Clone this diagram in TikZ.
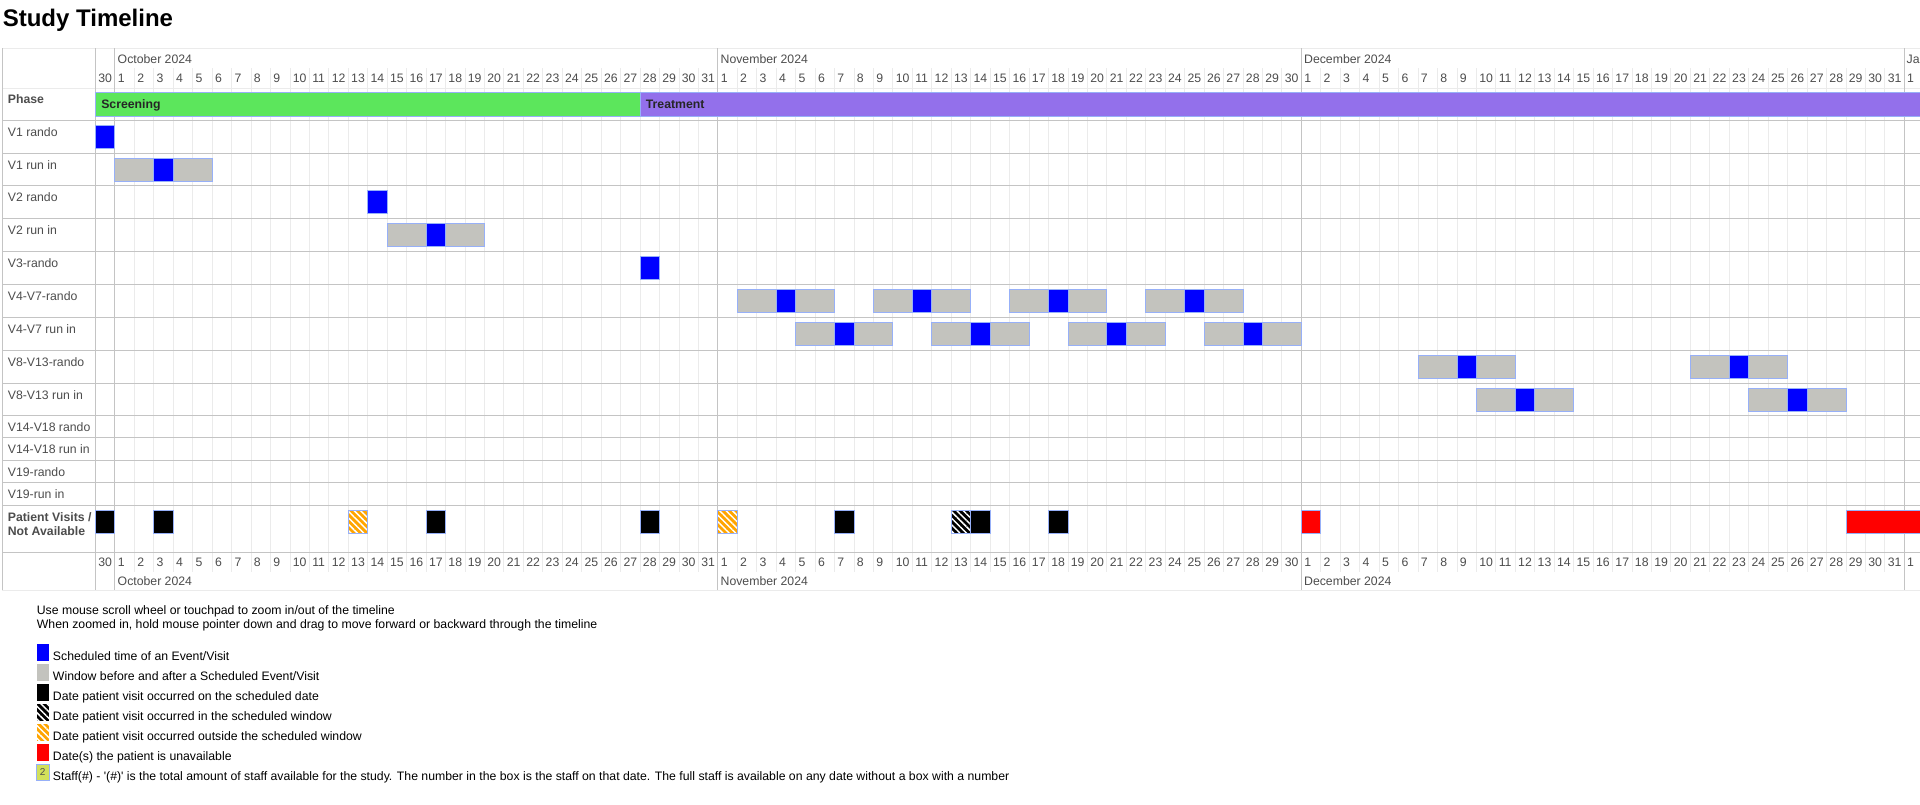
\documentclass[tikz,border=0pt]{standalone}
\usepackage{fontspec}
\setmainfont{Liberation Sans}
\usetikzlibrary{patterns.meta}
\definecolor{gridminor}{HTML}{EBEBEB}
\definecolor{gridmajor}{HTML}{C4C4C4}
\definecolor{itemborder}{HTML}{97B0F8}
\definecolor{schedblue}{HTML}{0000FF}
\definecolor{wingray}{HTML}{C3C3BE}
\definecolor{screengreen}{HTML}{5CE65C}
\definecolor{treatpurple}{HTML}{9370EB}
\definecolor{visitorange}{HTML}{FFA500}
\definecolor{unavred}{HTML}{FF0000}
\definecolor{staffgreen}{HTML}{D2E05A}
\definecolor{txtgray}{HTML}{4D4D4D}
\tikzset{
  x=0.75pt, y=-0.75pt,
  item/.style={draw=itemborder, line width=0.75pt},
  minorline/.style={draw=gridminor, line width=0.75pt},
  majorline/.style={draw=gridmajor, line width=0.75pt},
  daynum/.style={anchor=base west, inner sep=0pt, font=\fontsize{9.2}{11}\selectfont, text=txtgray},
  rowlbl/.style={anchor=base west, inner sep=0pt, font=\fontsize{9.2}{11}\selectfont, text=txtgray},
  boldlbl/.style={anchor=base west, inner sep=0pt, font=\fontsize{9.2}{11}\selectfont\bfseries, text=txtgray},
  phaselbl/.style={anchor=base west, inner sep=0pt, font=\fontsize{9.2}{11}\selectfont\bfseries, text=black!85},
  legtxt/.style={anchor=base west, inner sep=0pt, font=\fontsize{9.2}{11}\selectfont, text=black},
  hatch/.style={pattern={Lines[angle=-45,distance=3.4pt,line width=1.1pt]}, pattern color=white},
}
% day index d: Sep 30 = 0, Oct k = k, Nov k = 31+k, Dec k = 61+k, Jan 1 = 93
\newcommand{\winbox}[3]{\filldraw[item, fill=wingray] ({95.5+(#1)*19.45},#3+5) rectangle ({95.5+(#2)*19.45},#3+28);}
\newcommand{\schedbox}[2]{\filldraw[item, fill=schedblue] ({95.5+(#1)*19.45},#2+5) rectangle ({95.5+(#1+1)*19.45},#2+28);}
\newcommand{\visitbox}[3]{\filldraw[item, fill=#3] ({95.5+(#1)*19.45},#2+5) rectangle ({95.5+(#1+1)*19.45},#2+28);}
\newcommand{\hatchbox}[3]{\fill[#3] ({95.5+(#1)*19.45},#2+5) rectangle ({95.5+(#1+1)*19.45},#2+28);
  \fill[hatch] ({95.5+(#1)*19.45},#2+5) rectangle ({95.5+(#1+1)*19.45},#2+28);
  \draw[item] ({95.5+(#1)*19.45},#2+5) rectangle ({95.5+(#1+1)*19.45},#2+28);}
\newcommand{\runin}[2]{\winbox{#1-2}{#1+3}{#2}\schedbox{#1}{#2}}
\begin{document}
\begin{tikzpicture}
\useasboundingbox (0,0) rectangle (1920,804);
\clip (0,0) rectangle (1920,804);
\fill[white] (0,0) rectangle (1920,804);

% title
\node[anchor=base west, inner sep=0pt, font=\fontsize{18}{22}\selectfont\bfseries] (title) at (2.5,26.5) {Study Timeline};

% ---------- grid ----------
\foreach \d in {1,...,93} \draw[minorline] ({95.5+\d*19.45},68) -- ({95.5+\d*19.45},572);
\draw[minorline] (2,48) -- (1930,48);
\draw[minorline] (2,88) -- (1930,88);
\foreach \yy in {120,153,185.5,218.5,251,284,317,350,383,415.5,437.5,460,482,505,552}
  \draw[majorline] (2,\yy) -- (1930,\yy);
\draw[minorline] (2,590) -- (1930,590);
\draw[majorline] (2,48) -- (2,590);
\foreach \d in {0,1,32,62,93} \draw[majorline] ({95.5+\d*19.45},48) -- ({95.5+\d*19.45},590);

% ---------- header labels ----------
\foreach \yb/\tag in {82.7/t,566/b}{
  \node[daynum] (d\tag-s30) at ({95.5+2.5},\yb) {30};
  \foreach \d in {1,...,31} \node[daynum] (d\tag-o\d) at ({95.5+\d*19.45+2.6},\yb) {\d};
  \foreach \d in {1,...,30} \node[daynum] (d\tag-n\d) at ({95.5+(31+\d)*19.45+2.6},\yb) {\d};
  \foreach \d in {1,...,31} \node[daynum] (d\tag-d\d) at ({95.5+(61+\d)*19.45+2.6},\yb) {\d};
  \node[daynum] (d\tag-j1) at ({95.5+93*19.45+2.6},\yb) {1};
}
\foreach \yb/\tag in {63.3/t,585.7/b}{
  \node[daynum] (m\tag-oct) at ({95.5+1*19.45+2.5},\yb) {October 2024};
  \node[daynum] (m\tag-nov) at ({95.5+32*19.45+2.5},\yb) {November 2024};
  \node[daynum] (m\tag-dec) at ({95.5+62*19.45+2.5},\yb) {December 2024};
}
\node[daynum] (mt-jan) at ({95.5+93*19.45+2},63.3) {January 2025};

% ---------- phase ----------
\filldraw[item, fill=screengreen] (95.5,92) rectangle ({95.5+28*19.45},116);
\filldraw[item, fill=treatpurple] ({95.5+28*19.45},92) rectangle (1930,116);
\node[phaselbl] (ph-scr) at (101,108.5) {Screening};
\node[phaselbl] (ph-trt) at ({95.5+28*19.45+5.5},108.5) {Treatment};
\node[boldlbl] (lbl-phase) at (7.6,103) {Phase};

% ---------- row labels ----------
\foreach \yy/\txt/\nm in {120/V1 rando/r1, 153/V1 run in/r2, 185.5/V2 rando/r3, 218.5/V2 run in/r4,
  251/V3-rando/r5, 284/V4-V7-rando/r6, 317/V4-V7 run in/r7, 350/V8-V13-rando/r8,
  383/V8-V13 run in/r9, 415.5/V14-V18 rando/r10, 437.5/V14-V18 run in/r11,
  460/V19-rando/r12, 482/V19-run in/r13}
  \node[rowlbl] (lbl-\nm) at (7.6,\yy+16) {\txt};
\node[boldlbl] (lbl-pv1) at (7.6,521) {Patient Visits /};
\node[boldlbl] (lbl-pv2) at (7.6,535.5) {Not Available};

% ---------- scheduled items ----------
\schedbox{0}{120}
\runin{3}{153}
\schedbox{14}{185.5}
\runin{17}{218.5}
\schedbox{28}{251}
\foreach \c in {35,42,49,56} {\runin{\c}{284}}
\foreach \c in {38,45,52,59} {\runin{\c}{317}}
\foreach \c in {70,84} {\runin{\c}{350}}
\foreach \c in {73,87} {\runin{\c}{383}}

% ---------- patient visits ----------
\foreach \c in {0,3,17,28,38,45,49} {\visitbox{\c}{505}{black}}
\hatchbox{13}{505}{visitorange}
\hatchbox{32}{505}{visitorange}
\hatchbox{44}{505}{black}
\visitbox{62}{505}{unavred}
\filldraw[item, fill=unavred] ({95.5+90*19.45},510) rectangle (1930,533);

% ---------- notes & legend ----------
\node[legtxt] (note1) at (36.6,614) {Use mouse scroll wheel or touchpad to zoom in/out of the timeline};
\node[legtxt] (note2) at (36.6,628.3) {When zoomed in, hold mouse pointer down and drag to move forward or backward through the timeline};

\fill[schedblue] (36.5,644.3) rectangle (49,660.7);
\node[legtxt] (leg1) at (52.7,660.5) {Scheduled time of an Event/Visit};
\fill[wingray] (36.5,664.3) rectangle (49,680.7);
\node[legtxt] (leg2) at (52.7,680.5) {Window before and after a Scheduled Event/Visit};
\fill[black] (36.5,684.3) rectangle (49,700.7);
\node[legtxt] (leg3) at (52.7,700.5) {Date patient visit occurred on the scheduled date};
\fill[black] (36.5,704.3) rectangle (49,720.7);
\fill[hatch] (36.5,704.3) rectangle (49,720.7);
\node[legtxt] (leg4) at (52.7,720.5) {Date patient visit occurred in the scheduled window};
\fill[visitorange] (36.5,724.3) rectangle (49,740.7);
\fill[hatch] (36.5,724.3) rectangle (49,740.7);
\node[legtxt] (leg5) at (52.7,740.5) {Date patient visit occurred outside the scheduled window};
\fill[unavred] (36.5,744.3) rectangle (49,760.7);
\node[legtxt] (leg6) at (52.7,760.5) {Date(s) the patient is unavailable};
\filldraw[item, fill=staffgreen] (36.5,764.8) rectangle (49,780.7);
\node[inner sep=0pt, font=\fontsize{7.5}{8}\selectfont, text=txtgray] (leg7n) at (42.75,771.5) {2};
\node[legtxt] (leg7) at (52.7,780.5) {Staff(\#) - \textquotesingle(\#)\textquotesingle\ is the total amount of staff available for the study. The number in the box is the staff on that date. The full staff is available on any date without a box with a number};
\end{tikzpicture}
\end{document}
